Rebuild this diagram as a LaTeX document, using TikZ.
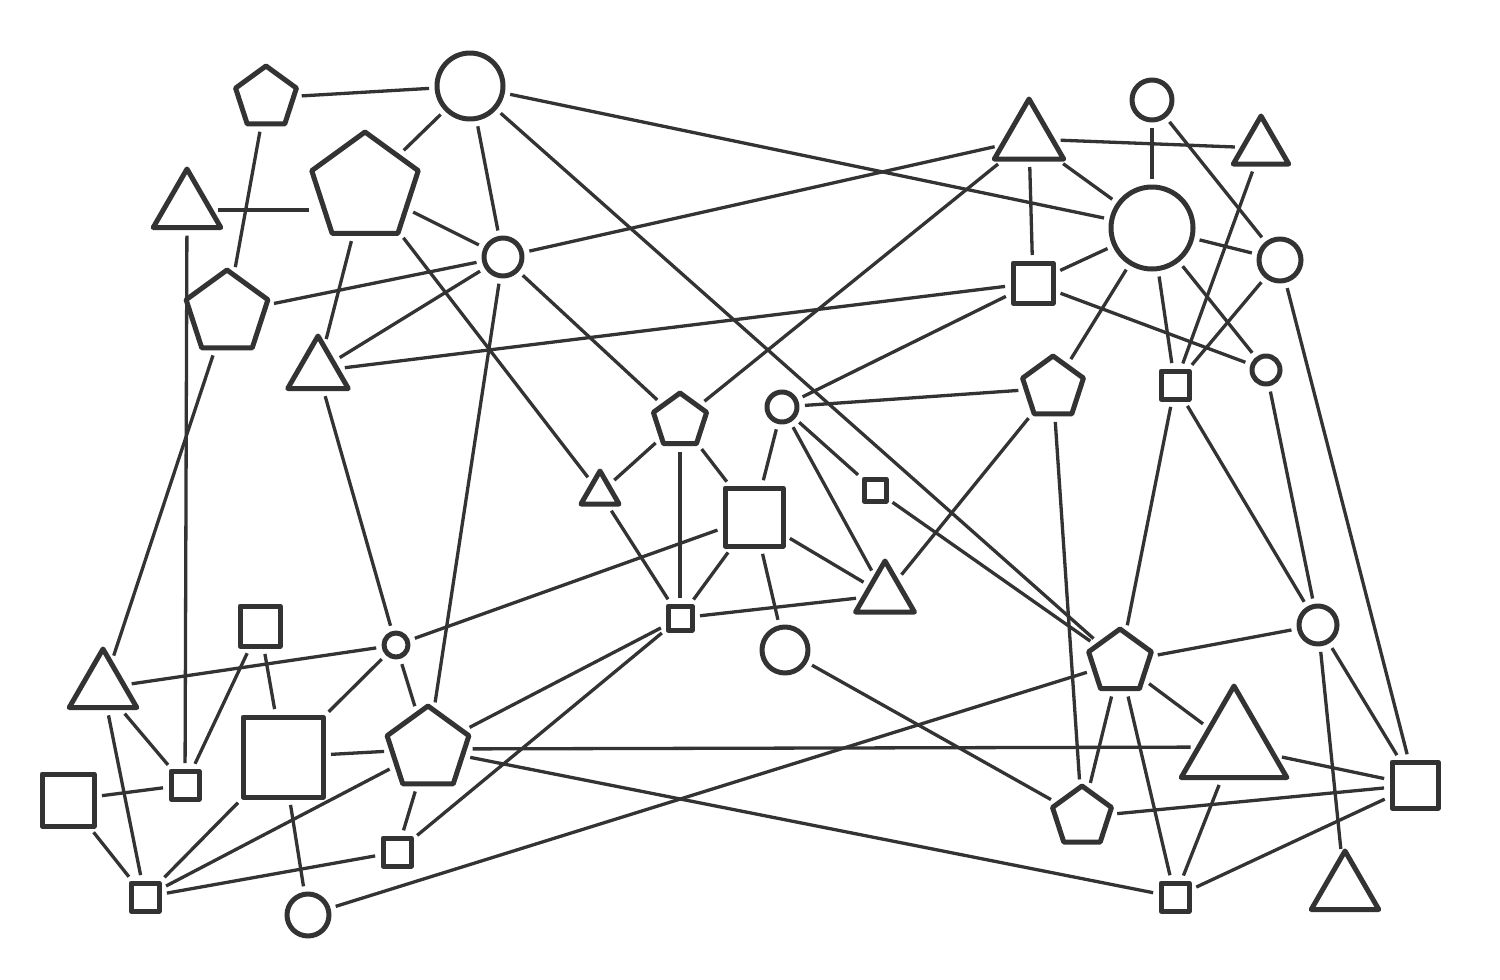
\documentclass[tikz,border=0pt]{standalone}
\usetikzlibrary{shapes.geometric}
\definecolor{ink}{HTML}{333333}
\begin{document}
\begin{tikzpicture}[x=1pt,y=-1pt,
 shp/.style={draw=ink, line width=5pt, line join=round, inner sep=0pt, outer sep=0pt},
 circ/.style={shp, circle, minimum size=#1},
 sq/.style={shp, rectangle, minimum size=#1},
 pent/.style={shp, regular polygon, regular polygon sides=5, minimum size=#1},
 tri/.style={shp, regular polygon, regular polygon sides=3, minimum size=#1},
 edge/.style={draw=ink, line width=3.3pt, shorten >=8pt, shorten <=8pt}]
\fill[white] (0,0) rectangle (1500,980);
\useasboundingbox (0,0) rectangle (1500,980);
% left / centre nodes
\node[pent=64] (P1) at (266,98) {};
\node[circ=66] (C1) at (470,86) {};
\node[tri=78] (T1) at (187,208) {};
\node[pent=112] (P2) at (365,188) {};
\node[circ=38] (C2) at (503,257) {};
\node[pent=86] (P3) at (227,313) {};
\node[tri=70] (T2) at (318,371) {};
\node[pent=56] (P4) at (680,421) {};
\node[circ=30] (C3) at (782,407) {};
\node[tri=44] (T3) at (600,493) {};
\node[sq=58] (S1) at (754,517) {};
\node[sq=22] (S2) at (875,490) {};
\node[tri=68] (T4) at (885,595) {};
\node[sq=24] (S3) at (680,618) {};
\node[circ=46] (C4) at (785,650) {};
\node[sq=40] (S4) at (260,626) {};
\node[circ=24] (C5) at (396,645) {};
\node[tri=78] (T5) at (103,688) {};
\node[sq=80] (S5) at (283,757) {};
\node[pent=86] (P5) at (428,749) {};
\node[sq=28] (S6) at (185,785) {};
\node[sq=52] (S7) at (68,800) {};
\node[sq=28] (S8) at (397,852) {};
\node[sq=28] (S9) at (145,897) {};
\node[circ=42] (C6) at (308,915) {};
% right nodes
\node[tri=80] (T6) at (1029,139) {};
\node[circ=40] (C7) at (1152,100) {};
\node[tri=64] (T7) at (1261,148) {};
\node[circ=82] (C8) at (1152,228) {};
\node[sq=40] (S10) at (1033,283) {};
\node[circ=42] (C9) at (1280,260) {};
\node[pent=64] (P6) at (1053,388) {};
\node[sq=28] (S11) at (1175,385) {};
\node[circ=28] (C10) at (1266,370) {};
\node[pent=66] (P7) at (1120,662) {};
\node[circ=38] (C11) at (1318,625) {};
\node[tri=122] (T8) at (1234,747) {};
\node[sq=46] (S12) at (1415,785) {};
\node[pent=62] (P8) at (1082,817) {};
\node[sq=28] (S13) at (1175,897) {};
\node[tri=78] (T9) at (1345,890) {};
% edges
\draw[edge] ([yshift=-2pt]T1.east) -- ([yshift=-2pt]T1.east -| P2.west);
\foreach \a/\b in {P1/C1,P1/P3,C1/P2,C1/C2,P2/C2,P2/T3,P2/T2,P3/C2,T2/C2,
  T2/S10,C2/P5,C2/P4,C2/T6,C1/C8,C1/P7,T1/S6,P3/T5,T2/C5,
  P4/T6,P4/T3,P4/S3,P4/S1,C3/S1,C3/P6,C3/S2,C3/T4,S10/C3,S2/P7,T4/P6,S1/T4,
  S1/C5,T3/S3,S1/S3,S1/C4,S3/T4,S3/P5,S3/S8,C4/P8,C6/P7,
  T5/C5,S4/S6,S4/S5,T5/S6,T5/S9,S7/S6,S7/S9,C5/S5,C5/P5,S5/P5,P5/T8,P5/S9,
  S5/S9,S9/S8,P5/S8,P5/S13,S5/C6,
  T6/T7,C7/C8,C7/C9,T7/S11,T6/C8,T6/S10,S10/C8,S10/C10,C8/P6,C8/S11,C8/C10,
  C8/C9,C9/S11,C9/S12,C10/C11,S11/P7,S11/C11,P6/P8,
  P7/C11,P7/P8,P7/S13,P7/T8,C11/T9,C11/S12,T8/S12,P8/S12,S13/S12,S13/T8}
  \draw[edge] (\a) -- (\b);
\end{tikzpicture}
\end{document}
